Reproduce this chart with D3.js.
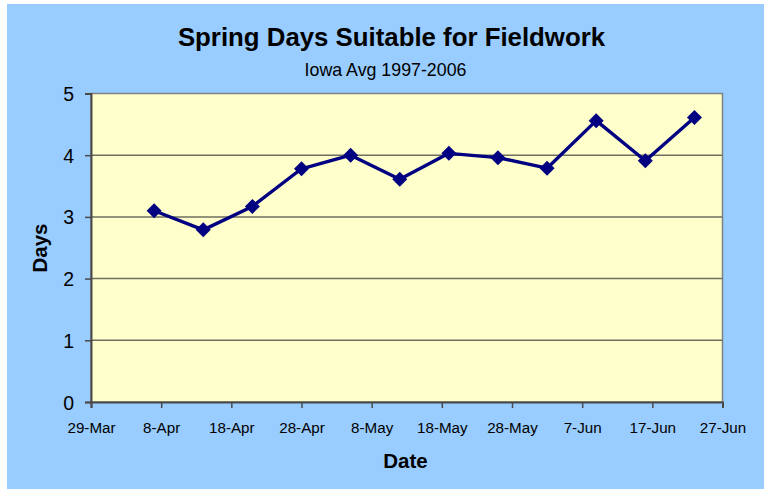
<!DOCTYPE html>
<html><head><meta charset="utf-8">
<script src="https://cdn.jsdelivr.net/npm/d3@7"></script>
<style>body{margin:0;background:#fff;}svg{display:block;font-family:Arial,"Liberation Sans",sans-serif;}</style>
</head><body>
<svg id="c" width="764" height="491"></svg>
<script>
const dates = ["2006-04-07","2006-04-14","2006-04-21","2006-04-28","2006-05-05","2006-05-12","2006-05-19","2006-05-26","2006-06-02","2006-06-09","2006-06-16","2006-06-23"];
const values = [3.1, 2.79, 3.17, 3.78, 4.0, 3.61, 4.03, 3.96, 3.79, 4.56, 3.91, 4.61];
const xTickDates = ["2006-03-29","2006-04-08","2006-04-18","2006-04-28","2006-05-08","2006-05-18","2006-05-28","2006-06-07","2006-06-17","2006-06-27"];
const yTicks = [0,1,2,3,4,5];
const title = "Spring Days Suitable for Fieldwork";
const subtitle = "Iowa Avg 1997-2006";

const parse = d3.utcParse("%Y-%m-%d");
const fmt = d3.utcFormat("%-d-%b");
const svg = d3.select("#c");
svg.append("rect").attr("x",7).attr("y",4).attr("width",757).attr("height",485).attr("fill","#99CCFF");

const L=91, R=722.5, T=93.5, B=402;
const x = d3.scaleUtc().domain([parse(xTickDates[0]), parse(xTickDates[xTickDates.length-1])]).range([L,R]);
const y = d3.scaleLinear().domain([0,5]).range([B,T]);

svg.append("rect").attr("x",L).attr("y",T).attr("width",R-L).attr("height",B-T)
  .attr("fill","#FFFFCC").attr("stroke","#808080").attr("stroke-width",1.5);

// gridlines
svg.append("g").selectAll("line").data(yTicks.filter(d=>d>0&&d<5)).join("line")
  .attr("x1",L).attr("x2",R).attr("y1",d=>y(d)).attr("y2",d=>y(d))
  .attr("stroke","#6f6f60").attr("stroke-width",1.5);

// y axis
const ya = svg.append("g").attr("transform",`translate(${L},0)`)
  .call(d3.axisLeft(y).tickValues(yTicks).tickSize(6).tickPadding(11).tickFormat(d3.format("d")));
ya.select(".domain").attr("stroke","#4a4a4a").attr("stroke-width",2);
ya.selectAll(".tick line").attr("stroke","#4a4a4a").attr("stroke-width",1.5);
ya.selectAll("text").attr("font-size",19.5).attr("fill","#000").attr("font-family","Arial,'Liberation Sans',sans-serif").attr("dy","0.36em");

// x axis
const xa = svg.append("g").attr("transform",`translate(0,${B})`)
  .call(d3.axisBottom(x).tickValues(xTickDates.map(parse)).tickSize(6).tickPadding(14).tickFormat(fmt));
xa.select(".domain").attr("stroke","#4a4a4a").attr("stroke-width",2);
xa.selectAll(".tick line").attr("stroke","#4a4a4a").attr("stroke-width",1.5);
xa.selectAll("text").attr("font-size",15.2).attr("fill","#000").attr("font-family","Arial,'Liberation Sans',sans-serif");

// line
const pts = dates.map((d,i)=>({d:parse(d), v:values[i]}));
svg.append("path").datum(pts)
  .attr("d", d3.line().x(p=>x(p.d)).y(p=>y(p.v)))
  .attr("fill","none").attr("stroke","#000080").attr("stroke-width",3.4).attr("stroke-linejoin","round");
const s = 7.5;
svg.append("g").selectAll("path").data(pts).join("path")
  .attr("transform",p=>`translate(${x(p.d)},${y(p.v)})`)
  .attr("d",`M0,${-s}L${s},0L0,${s}L${-s},0Z`).attr("fill","#000080");

// titles
svg.append("text").attr("x",391.5).attr("y",46).attr("text-anchor","middle")
  .attr("font-size",25.8).attr("font-weight","bold").text(title);
svg.append("text").attr("x",385.5).attr("y",76).attr("text-anchor","middle")
  .attr("font-size",17.8).text(subtitle);
svg.append("text").attr("x",405.5).attr("y",468).attr("text-anchor","middle")
  .attr("font-size",20.5).attr("font-weight","bold").text("Date");
svg.append("text").attr("transform","translate(47,248) rotate(-90)").attr("text-anchor","middle")
  .attr("font-size",20.5).attr("font-weight","bold").text("Days");
</script>
</body></html>
